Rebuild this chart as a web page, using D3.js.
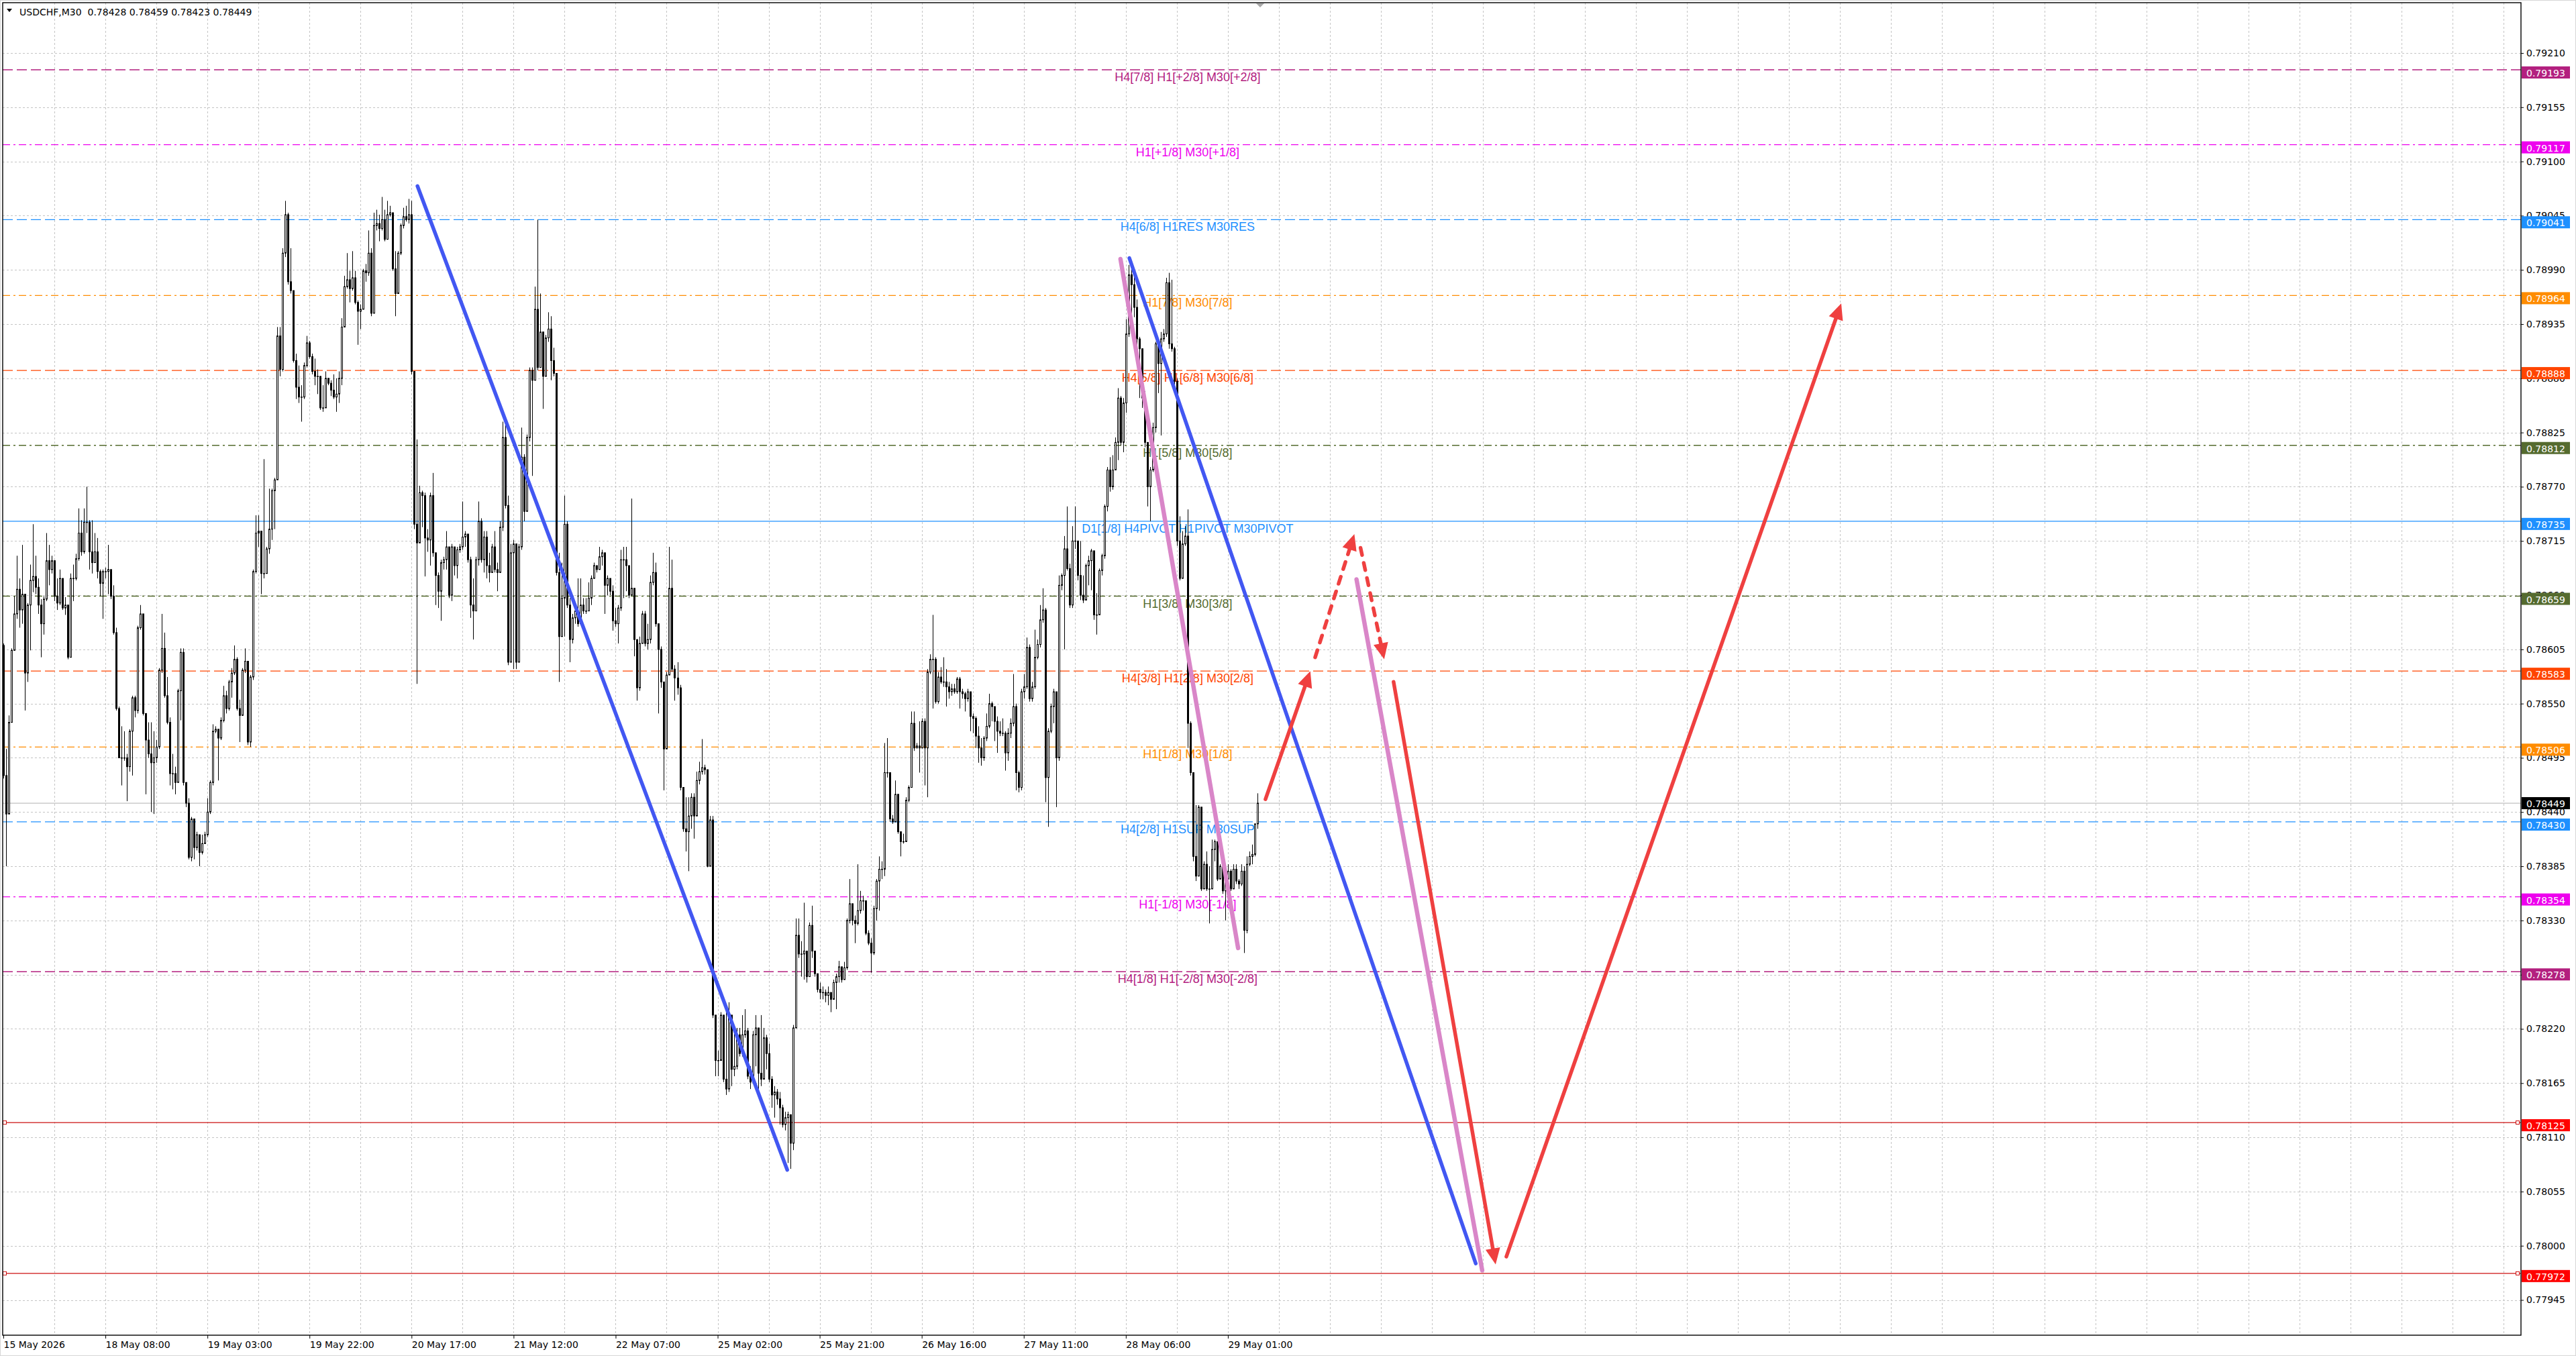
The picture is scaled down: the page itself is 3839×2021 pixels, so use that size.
<!DOCTYPE html>
<html>
<head>
<meta charset="utf-8">
<script src="https://cdn.jsdelivr.net/npm/d3@7"></script>
<style>
  html, body { margin: 0; padding: 0; background: #fff; overflow: hidden; }
</style>
</head>
<body>
<div id="chart"></div>
<script>

// ---- data (candle prices in points above 0.78000, i.e. 1 = 0.00001) ----
var BASE = 0.78;
var firstOpen = 609;

var closePts = [
  477,438,531,604,641,666,645,661,581,650,675,679,668,650,631,656,695,686,695,659,652,677,647,
  650,
  597,677,677,697,723,704,734,734,704,693,704,684,672,684,684,686,659,
  622,545,495,495,495,486,522,556,543,627,641,540,513,499,490,495,506,584,606,558,
  531,479,479,470,563,602,470,449,394,433,404,417,399,408,417,440,470,522,524,515,
  533,558,545,572,581,595,545,538,584,593,511,577,684,723,725,682,682,707,727,766,
  777,923,889,1007,1046,978,969,898,871,861,861,893,916,902,887,882,882,850,850,880,875,
  868,
  861,864,880,932,973,980,971,982,957,948,950,989,987,1007,946,1035,1037,1032,1041,1021,
  1046,1048,991,966,1007,1035,1044,1041,1046,887,732,713,764,761,718,716,
  761,703,680,664,693,696,709,660,709,690,706,709,719,722,696,650,644,696,735,696,
  719,690,683,709,686,683,729,820,751,592,703,712,592,709,800,745,820,888,878,950,
  891,927,882,921,930,898,885,683,618,657,732,650,615,637,644,631,650,644,644,657,
  677,690,686,699,703,670,677,664,634,631,647,696,696,690,660,667,615,566,611,641,
  611,615,673,683,631,605,572,504,579,667,585,576,566,465,423,420,436,455,436,472,
  481,485,483,385,432,234,188,188,234,169,159,234,179,182,214,195,214,218,172,166,
  214,221,175,169,211,195,169,153,156,149,140,123,130,133,104,221,315,296,296,299,
  273,325,299,276,260,257,257,254,257,250,267,273,283,270,
  282,330,347,330,327,340,350,350,317,307,297,342,370,382,382,480,480,433,430,458,
  420,410,410,452,465,530,505,507,505,532,505,582,595,595,552,577,572,572,567,562,
  565,
  562,575,562,560,555,562,537,535,517,505,495,515,527,550,547,532,522,520,520,500,
  520,530,547,480,465,562,567,607,555,567,597,610,635,645,475,522,547,562,495,670,
  680,707,687,650,715,715,680,660,655,690,695,705,640,640,685,700,750,787,770,787,
  815,860,815,855,925,985,975,952,920,910,
  860,
  815,770,787,830,915,895,920,925,977,915,910,877,715,677,712,720,530,480,395,375,
  445,362,387,362,362,402,410,372,385,360,372,380,362,382,370,367,380,320,387,395,397,428,449
];

var highPts = [
  611,504,538,606,659,700,677,711,661,652,691,732,700,677,656,659,723,711,700,695,677,686,654,
  658,
  650,682,691,702,748,736,748,770,736,736,723,718,686,686,688,711,686,
  670,627,547,527,522,499,524,558,558,629,650,641,540,531,531,522,513,586,641,622,
  577,536,499,486,565,606,606,470,454,435,431,420,417,417,420,454,472,529,527,524,
  536,568,563,574,586,609,597,554,586,606,586,579,686,741,741,713,798,709,768,768,
  779,932,932,1012,1060,1048,1012,969,905,893,873,896,923,918,905,900,889,875,873,887,880,
  878,
  884,880,887,941,984,1007,989,1009,989,959,955,991,996,1030,1012,1048,1051,1046,1064,1051,
  1060,1055,1048,1009,1009,1037,1053,1055,1062,1060,882,818,771,766,764,727,
  764,784,703,683,696,699,725,709,712,709,709,712,755,725,722,699,677,699,755,738,
  725,725,703,712,725,693,735,836,833,761,712,716,631,712,830,803,823,891,891,973,
  1041,966,927,924,947,943,911,885,703,693,761,735,657,641,647,677,677,657,657,673,
  680,693,690,709,706,690,680,677,670,647,650,706,709,709,690,758,664,615,618,644,
  644,631,680,703,693,631,608,572,582,709,696,589,592,569,465,455,455,459,459,481,
  491,514,488,406,436,436,234,198,237,234,240,247,228,221,221,221,234,240,221,182,
  218,234,214,234,221,214,205,172,162,159,156,143,136,136,130,224,332,332,309,348,
  292,328,345,299,273,267,263,260,263,257,270,276,289,283,
  288,332,372,347,335,387,360,355,350,320,312,345,372,395,390,510,515,480,437,472,
  458,420,418,455,467,542,542,510,532,535,535,585,600,640,597,582,587,597,585,572,
  570,
  570,577,577,565,562,565,562,540,537,527,515,517,540,560,552,540,537,532,535,522,
  525,535,580,550,482,565,580,617,610,572,625,615,650,667,647,525,550,565,560,680,
  682,720,750,692,730,750,715,715,680,692,700,707,665,662,687,702,752,790,800,802,
  820,870,862,860,940,995,995,985,960,922,
  870,
  867,815,790,835,917,915,927,930,982,987,980,912,880,740,725,730,747,532,475,447,
  447,400,390,400,385,412,412,395,387,395,377,387,382,387,387,372,387,385,395,400,407,427,459
];

var lowPts = [
  474,385,438,533,604,636,627,631,543,572,604,663,661,641,597,620,654,670,682,654,645,650,645,
  640,
  595,631,654,675,695,700,702,723,686,682,693,677,659,636,677,661,656,
  620,543,495,467,492,451,481,477,536,540,625,538,458,495,440,438,490,504,581,556,
  529,467,463,458,470,533,467,445,392,390,392,401,385,397,408,415,438,467,520,472,
  513,531,540,543,556,579,543,511,538,581,508,506,574,682,709,661,677,686,702,716,
  727,779,882,887,1003,975,966,896,859,855,836,859,891,900,884,873,864,848,846,850,873,
  862,
  859,846,855,873,932,971,957,969,955,914,930,950,978,984,943,946,1030,1019,1030,1019,
  1021,1044,989,943,966,1005,1032,1039,1037,884,727,570,713,729,679,704,
  690,699,650,647,634,686,686,657,654,680,677,703,706,709,693,637,615,657,690,693,
  683,677,673,683,683,664,686,725,748,589,592,585,585,618,706,735,745,816,781,882,
  888,904,849,882,917,878,882,680,572,621,618,647,592,611,631,628,631,641,641,647,
  650,677,683,686,690,641,660,660,624,628,611,644,657,664,657,660,598,553,563,611,
  608,605,611,670,628,540,566,462,507,579,582,553,559,462,420,400,380,423,413,436,
  468,478,478,384,393,231,172,172,188,166,153,156,162,172,179,192,192,211,169,159,
  169,182,156,162,185,179,166,140,130,143,123,120,117,84,78,97,221,292,273,270,
  267,280,292,273,257,250,250,247,244,237,250,240,267,267,
  276,280,327,325,307,325,337,340,315,305,277,295,330,340,372,375,475,430,428,430,
  418,395,408,410,450,465,502,505,480,520,467,455,580,545,550,550,570,567,547,555,
  558,
  560,560,545,555,542,552,522,520,505,490,487,492,512,525,532,512,500,517,517,482,
  492,515,527,462,460,462,555,565,552,552,565,595,607,632,450,425,520,530,445,492,
  665,605,685,647,647,707,675,655,652,657,670,665,635,620,660,680,697,745,765,767,
  790,797,812,805,845,922,940,942,905,860,
  850,
  810,750,735,785,825,865,822,917,922,910,907,872,710,675,677,710,505,477,390,370,
  375,360,362,360,327,385,390,370,372,357,330,365,360,362,367,362,365,297,317,385,387,395,423
];

var timeLabels = ["15 May 2026","18 May 08:00","19 May 03:00","19 May 22:00","20 May 17:00",
  "21 May 12:00","22 May 07:00","25 May 02:00","25 May 21:00","26 May 16:00",
  "27 May 11:00","28 May 06:00","29 May 01:00"];
var timeLabelBars = [0,38,76,114,152,190,228,266,304,342,380,418,456];

var priceTicks = [0.79210,0.79155,0.79100,0.79045,0.78990,0.78935,0.78880,0.78825,0.78770,0.78715,
  0.78660,0.78605,0.78550,0.78495,0.78440,0.78385,0.78330,0.78275,0.78220,0.78165,0.78110,
  0.78055,0.78000,0.77945];

var levelPrices = [0.79193,0.79117,0.79041,0.78964,0.78888,0.78812,0.78735,0.78659,0.78583,
  0.78506,0.78430,0.78354,0.78278,0.78125,0.77972];
var levelTexts = ["H4[7/8] H1[+2/8] M30[+2/8]","H1[+1/8] M30[+1/8]","H4[6/8] H1RES M30RES",
  "H1[7/8] M30[7/8]","H4[5/8] H1[6/8] M30[6/8]","H1[5/8] M30[5/8]",
  "D1[1/8] H4PIVOT H1PIVOT M30PIVOT","H1[3/8] M30[3/8]","H4[3/8] H1[2/8] M30[2/8]",
  "H1[1/8] M30[1/8]","H4[2/8] H1SUP M30SUP","H1[-1/8] M30[-1/8]","H4[1/8] H1[-2/8] M30[-2/8]","",""];

var bidPrice = 0.78449;
var headerText = "USDCHF,M30  0.78428 0.78459 0.78423 0.78449";

// drawn objects: [bar1, price1, bar2, price2]
var blueLines = [[154.2,0.79075,291.9,0.78077],[419.3,0.79002,548.3,0.77982]];
var pinkLines = [[416.0,0.79001,459.8,0.78302],[503.9,0.78676,550.7,0.77975]];
var solidArrows = [[470.0,0.78453,486.7,0.78583],[517.7,0.78572,555.7,0.77981],[559.7,0.77989,684.4,0.78956]];
var dashedArrows = [[488.5,0.78597,503.1,0.78722],[505.4,0.78708,514.2,0.78595]];

// ---- styles ----
var PURPLE = '#b3207f', MAGENTA = '#ee00ee', DBLUE = '#1e90ff', DORANGE = '#ff8c00',
    ORED = '#ff4500', OLIVE = '#556b2f', RED = '#cc1111';
var DASH = '15,6', DASHDOT = '11,5,3,5';
var levelStyle = [
  {c: PURPLE, d: DASH}, {c: MAGENTA, d: DASHDOT}, {c: DBLUE, d: DASH}, {c: DORANGE, d: DASHDOT},
  {c: ORED, d: DASH}, {c: OLIVE, d: DASHDOT}, {c: DBLUE, d: null}, {c: OLIVE, d: DASHDOT},
  {c: ORED, d: DASH}, {c: DORANGE, d: DASHDOT}, {c: DBLUE, d: DASH}, {c: MAGENTA, d: DASHDOT},
  {c: PURPLE, d: DASH}, {c: RED, d: null, box: '#ff0000', ends: true}, {c: RED, d: null, box: '#ff0000', ends: true}
];

var W = 3839, H = 2021;
var L = 4, T = 4, R = 3757, B = 1990;
var AXFONT = 'DejaVu Sans, Verdana, sans-serif';

var x = d3.scaleLinear().domain([0, 931]).range([5, 5 + 931 * 4.002]);
var y = d3.scaleLinear().domain([0.77945, 0.79210]).range([1937.5, 79]);
function pr(p) { return BASE + p / 1e5; }

var svg = d3.select('#chart').append('svg')
  .attr('width', W).attr('height', H)
  .style('display', 'block').style('background', '#fff');

svg.append('defs').append('clipPath').attr('id', 'plot')
  .append('rect').attr('x', L).attr('y', T).attr('width', R - L).attr('height', B - T);

// window border
svg.append('rect').attr('x', 0.5).attr('y', 0.5).attr('width', W - 1).attr('height', H - 1)
  .attr('fill', 'none').attr('stroke', '#d6d6d6');

var plot = svg.append('g').attr('clip-path', 'url(#plot)');

// grid
plot.selectAll('.hgrid').data(priceTicks).enter().append('line')
  .attr('class', 'hgrid')
  .attr('x1', L).attr('x2', R)
  .attr('y1', function(d){ return Math.round(y(d)) + 0.5; })
  .attr('y2', function(d){ return Math.round(y(d)) + 0.5; })
  .attr('stroke', '#c4c4c4').attr('stroke-dasharray', '3,3');

plot.selectAll('.vgrid').data(d3.range(19, 932, 19)).enter().append('line')
  .attr('class', 'vgrid')
  .attr('y1', T).attr('y2', B)
  .attr('x1', function(d){ return Math.round(x(d)) + 0.5; })
  .attr('x2', function(d){ return Math.round(x(d)) + 0.5; })
  .attr('stroke', '#c4c4c4').attr('stroke-dasharray', '3,3');

// level lines
plot.selectAll('.level').data(levelPrices).enter().append('line')
  .attr('class', 'level')
  .attr('x1', L).attr('x2', R)
  .attr('y1', function(d){ return y(d); })
  .attr('y2', function(d){ return y(d); })
  .attr('stroke', function(d, i){ return levelStyle[i].c; })
  .attr('stroke-width', 1.3)
  .attr('stroke-dasharray', function(d, i){ return levelStyle[i].d; });

// small squares at the ends of the red levels
levelPrices.forEach(function(p, i){
  if (!levelStyle[i].ends) return;
  [7, 3752].forEach(function(cx){
    plot.append('rect').attr('x', cx - 2.5).attr('y', y(p) - 2.5).attr('width', 5).attr('height', 5)
      .attr('fill', '#fff').attr('stroke', levelStyle[i].c).attr('stroke-width', 1);
  });
});

// level names
var labelBar = 441;
plot.selectAll('.lvtext').data(levelPrices).enter().append('text')
  .attr('class', 'lvtext')
  .attr('x', x(labelBar)).attr('y', function(d){ return y(d) + 17; })
  .attr('text-anchor', 'middle')
  .attr('font-family', 'Liberation Sans, Arial, sans-serif').attr('font-size', 18)
  .attr('fill', function(d, i){ return levelStyle[i].c; })
  .text(function(d, i){ return levelTexts[i]; });

// bid line
plot.append('line').attr('x1', L).attr('x2', R)
  .attr('y1', y(bidPrice)).attr('y2', y(bidPrice))
  .attr('stroke', '#c0c0c0').attr('stroke-width', 1.3);

// candles
var bars = closePts.map(function(c, i){
  var o = i === 0 ? firstOpen : closePts[i - 1];
  return { i: i, o: pr(o), c: pr(c),
           h: pr(Math.max(highPts[i], o, c)), l: pr(Math.min(lowPts[i], o, c)) };
});

var cg = plot.append('g').attr('class', 'candles');
var candle = cg.selectAll('.bar').data(bars).enter().append('g').attr('class', 'bar');
candle.append('line')
  .attr('x1', function(d){ return Math.round(x(d.i)) + 0.5; })
  .attr('x2', function(d){ return Math.round(x(d.i)) + 0.5; })
  .attr('y1', function(d){ return y(d.h); })
  .attr('y2', function(d){ return y(d.l); })
  .attr('stroke', '#000').attr('stroke-width', 1);
candle.append('rect')
  .attr('x', function(d){ return Math.round(x(d.i)) - 0.5; })
  .attr('width', 2)
  .attr('y', function(d){ return y(Math.max(d.o, d.c)); })
  .attr('height', function(d){ return Math.max(0.5, Math.abs(y(d.o) - y(d.c))); })
  .attr('fill', function(d){ return d.c >= d.o ? '#fff' : '#000'; })
  .attr('stroke', '#000').attr('stroke-width', 1);

// trend lines
function seg(g, s, color, width){
  g.append('line')
    .attr('x1', x(s[0])).attr('y1', y(s[1])).attr('x2', x(s[2])).attr('y2', y(s[3]))
    .attr('stroke', color).attr('stroke-width', width).attr('stroke-linecap', 'round');
}
var og = plot.append('g').attr('class', 'objects');
blueLines.forEach(function(s){ seg(og, s, '#4257f2', 5.5); });
pinkLines.forEach(function(s){ seg(og, s, '#d986c8', 6.5); });

var ARROW = '#ef4040';
function arrow(g, s, dashed){
  var x1 = x(s[0]), y1 = y(s[1]), x2 = x(s[2]), y2 = y(s[3]);
  var dx = x2 - x1, dy = y2 - y1, len = Math.sqrt(dx * dx + dy * dy);
  var ux = dx / len, uy = dy / len, hl = 24, hw = 11;
  var bx = x2 - ux * hl, by = y2 - uy * hl;
  g.append('line')
    .attr('x1', x1).attr('y1', y1).attr('x2', bx + ux * 3).attr('y2', by + uy * 3)
    .attr('stroke', ARROW).attr('stroke-width', 5.5).attr('stroke-linecap', 'round')
    .attr('stroke-dasharray', dashed ? '11,12' : null);
  g.append('path')
    .attr('d', 'M' + x2 + ',' + y2 + 'L' + (bx - uy * hw) + ',' + (by + ux * hw) +
               'L' + (bx + uy * hw) + ',' + (by - ux * hw) + 'Z')
    .attr('fill', ARROW);
}
solidArrows.forEach(function(s){ arrow(og, s, false); });
dashedArrows.forEach(function(s){ arrow(og, s, true); });

// frame
svg.append('rect').attr('x', L).attr('y', T).attr('width', R - L).attr('height', B - T)
  .attr('fill', 'none').attr('stroke', '#000').attr('stroke-width', 1.4);

// right price axis
var yAxis = d3.axisRight(y).tickValues(priceTicks).tickFormat(d3.format('.5f'))
  .tickSize(4).tickPadding(4);
var ag = svg.append('g').attr('transform', 'translate(' + R + ',0)').call(yAxis);
ag.select('.domain').remove();
ag.attr('font-family', AXFONT).attr('font-size', 14);
ag.selectAll('text').attr('fill', '#000');
ag.selectAll('line').attr('stroke', '#000');

// price labels of the levels
var boxes = svg.append('g').attr('class', 'pricebox');
levelPrices.forEach(function(p, i){
  var yy = y(p);
  boxes.append('rect').attr('x', R + 1).attr('y', yy - 5).attr('width', 72).attr('height', 18)
    .attr('fill', levelStyle[i].box || levelStyle[i].c);
  boxes.append('text').attr('x', R + 8).attr('y', yy + 10)
    .attr('font-family', AXFONT).attr('font-size', 14).attr('fill', '#fff')
    .text(d3.format('.5f')(p));
});
boxes.append('rect').attr('x', R + 1).attr('y', y(bidPrice) - 9).attr('width', 72).attr('height', 18)
  .attr('fill', '#000');
boxes.append('text').attr('x', R + 8).attr('y', y(bidPrice) + 6)
  .attr('font-family', AXFONT).attr('font-size', 14).attr('fill', '#fff')
  .text(d3.format('.5f')(bidPrice));

// bottom time axis
var xAxis = d3.axisBottom(x).tickValues(timeLabelBars)
  .tickFormat(function(d, i){ return timeLabels[i]; })
  .tickSize(5).tickPadding(4);
var xg = svg.append('g').attr('transform', 'translate(0,' + B + ')').call(xAxis);
xg.select('.domain').remove();
xg.attr('font-family', AXFONT).attr('font-size', 14);
xg.selectAll('text').attr('fill', '#000').attr('text-anchor', 'start').attr('x', 0);
xg.selectAll('line').attr('stroke', '#000');

// header
svg.append('path').attr('d', 'M10,13L18,13L14,18Z').attr('fill', '#000');
svg.append('text').attr('x', 29).attr('y', 23)
  .attr('font-family', AXFONT).attr('font-size', 14).attr('fill', '#000')
  .style('white-space', 'pre')
  .text(headerText);

// chart shift marker
svg.append('path').attr('d', 'M1872,5L1884,5L1878,11Z').attr('fill', '#a8a8a8');

</script>
</body>
</html>
